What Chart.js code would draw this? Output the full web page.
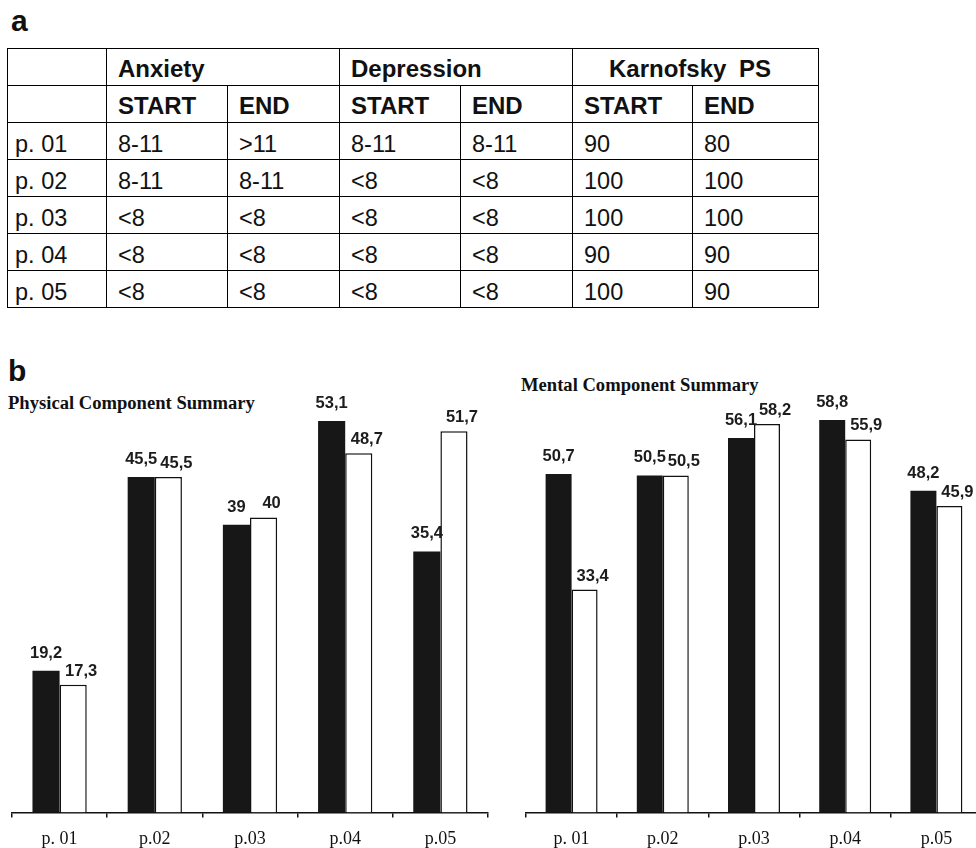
<!DOCTYPE html>
<html>
<head>
<meta charset="utf-8">
<script src="https://cdn.jsdelivr.net/npm/chart.js@4/dist/chart.umd.min.js"></script>
<style>
  html, body { margin: 0; padding: 0; background: #fff; }
  body { width: 976px; height: 848px; overflow: hidden; position: relative; }
  .panel { position: absolute; font: bold 30px "Liberation Sans", Arial, sans-serif; line-height: 1; color: #111; }
  .ctitle { position: absolute; font: bold 18.6px "Liberation Serif", "Times New Roman", serif; line-height: 1; color: #111; white-space: nowrap; }
  table { position: absolute; left: 7px; top: 48px; border-collapse: collapse; table-layout: fixed;
          font-family: "Liberation Sans", Arial, sans-serif; color: #111; }
  td { border: 1px solid #000; height: 37px; padding: 0 0 1px 11px; vertical-align: bottom;
       font-size: 23.5px; line-height: 1.15; white-space: nowrap; box-sizing: border-box; }
  td.first { padding-left: 7px; }
  tr.head td { font-weight: bold; font-size: 24px; padding-bottom: 2px; }
  td.kps { padding-left: 36px; word-spacing: 6px; }
  canvas { position: absolute; }
</style>
</head>
<body>
<div class="panel" style="left:11px; top:6px;">a</div>
<table id="scores">
  <colgroup>
    <col style="width:99px"><col style="width:121px"><col style="width:112px">
    <col style="width:121px"><col style="width:112px"><col style="width:120px"><col style="width:126px">
  </colgroup>
  <tbody></tbody>
</table>

<div class="panel" style="left:8px; top:356px;">b</div>
<div class="ctitle" style="left:8px; top:393.5px;">Physical Component Summary</div>
<div class="ctitle" style="left:521px; top:376px;">Mental Component Summary</div>

<canvas id="pcs" width="500" height="501" style="left:0px; top:360px;"></canvas>
<canvas id="mcs" width="480" height="501" style="left:514px; top:360px;"></canvas>

<script>
// ---- table a: HADS categories and Karnofsky performance status ----
const patients = ['p. 01', 'p. 02', 'p. 03', 'p. 04', 'p. 05'];
const groupHeaders = ['Anxiety', 'Depression', 'Karnofsky PS'];
const phaseHeaders = ['START', 'END'];
const anxietyStart = ['8-11', '8-11', '<8', '<8', '<8'];
const anxietyEnd = ['>11', '8-11', '<8', '<8', '<8'];
const depressionStart = ['8-11', '<8', '<8', '<8', '<8'];
const depressionEnd = ['8-11', '<8', '<8', '<8', '<8'];
const karnofskyStart = [90, 100, 100, 90, 100];
const karnofskyEnd = [80, 100, 100, 90, 90];

// ---- charts b: SF-36 component summaries at start and end ----
const visitLabels = ['p. 01', 'p.02', 'p.03', 'p.04', 'p.05'];
const pcsStart = [19.2, 45.5, 39, 53.1, 35.4];
const pcsEnd = [17.3, 45.5, 40, 48.7, 51.7];
const mcsStart = [50.7, 50.5, 56.1, 58.8, 48.2];
const mcsEnd = [33.4, 50.5, 58.2, 55.9, 45.9];

// build the table
(function buildTable() {
  const body = document.querySelector('#scores tbody');
  const cell = (tr, text, cls, span) => {
    const td = document.createElement('td');
    td.textContent = text;
    if (cls) td.className = cls;
    if (span) td.colSpan = span;
    tr.appendChild(td);
    return td;
  };
  const r1 = document.createElement('tr'); r1.className = 'head';
  cell(r1, '', 'first');
  groupHeaders.forEach((g, i) => cell(r1, g, i === 2 ? 'kps' : '', 2));
  body.appendChild(r1);
  const r2 = document.createElement('tr'); r2.className = 'head';
  cell(r2, '', 'first');
  groupHeaders.forEach(() => phaseHeaders.forEach(p => cell(r2, p)));
  body.appendChild(r2);
  patients.forEach((p, i) => {
    const tr = document.createElement('tr');
    cell(tr, p, 'first');
    [anxietyStart, anxietyEnd, depressionStart, depressionEnd, karnofskyStart, karnofskyEnd]
      .forEach(col => cell(tr, String(col[i])));
    body.appendChild(tr);
  });
})();

// value labels above each bar (decimal comma)
const valueLabels = {
  id: 'valueLabels',
  afterDatasetsDraw(chart) {
    const ctx = chart.ctx;
    ctx.save();
    ctx.font = 'bold 16.5px "Liberation Sans", Arial, sans-serif';
    ctx.fillStyle = '#1c1c1c';
    ctx.textAlign = 'center';
    ctx.textBaseline = 'alphabetic';
    chart.data.datasets.forEach((ds, i) => {
      const meta = chart.getDatasetMeta(i);
      const dx = i === 0 ? 0 : 8;
      const gap = i === 0 ? 13 : 9;
      meta.data.forEach((bar, j) => {
        ctx.fillText(String(ds.data[j]).replace('.', ','), bar.x + dx, bar.y - gap);
      });
    });
    ctx.restore();
  }
};

function summaryChart(id, start, end, yMax, padTop) {
  return new Chart(document.getElementById(id), {
    type: 'bar',
    data: {
      labels: visitLabels,
      datasets: [
        { label: 'START', data: start, backgroundColor: '#171717', borderColor: '#171717', borderWidth: 0,
          categoryPercentage: 0.57, barPercentage: 1.0 },
        { label: 'END', data: end, backgroundColor: '#ffffff', borderColor: '#111111', borderWidth: 1.5,
          categoryPercentage: 0.57, barPercentage: 1.0 }
      ]
    },
    options: {
      responsive: false,
      animation: false,
      devicePixelRatio: 1,
      layout: { padding: { left: 12, right: 12, top: padTop, bottom: 0 } },
      plugins: { legend: { display: false }, tooltip: { enabled: false } },
      scales: {
        x: {
          grid: { display: true, drawOnChartArea: false, drawTicks: true, tickLength: 5,
                  color: '#111', lineWidth: 1.5, offset: true },
          border: { display: true, color: '#111', width: 1.5 },
          ticks: { color: '#111', padding: 11,
                   font: { family: '"Liberation Serif", "Times New Roman", serif', size: 18 } }
        },
        y: { display: false, min: 0, max: yMax }
      }
    },
    plugins: [valueLabels]
  });
}

summaryChart('pcs', pcsStart, pcsEnd, 60, 10);
summaryChart('mcs', mcsStart, mcsEnd, 66, 12);
</script>
</body>
</html>
